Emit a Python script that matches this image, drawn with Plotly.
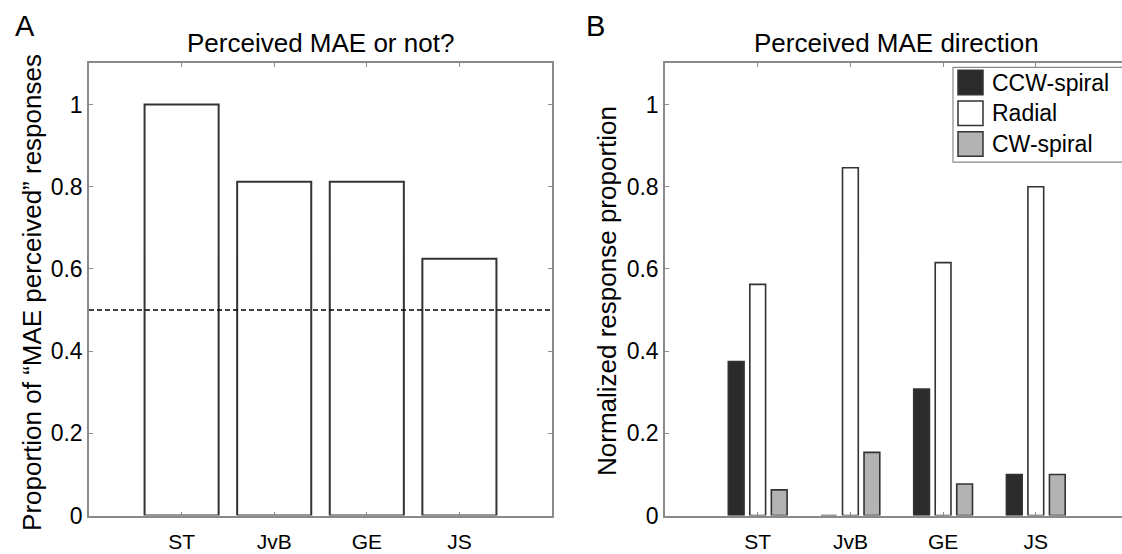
import plotly.graph_objects as go

# ---------------- data ----------------
subjects = ["ST", "JvB", "GE", "JS"]
x_pos = [1, 2, 3, 4]
mae_perceived = [1.0, 0.8125, 0.8125, 0.625]
chance_level = 0.5

ccw_spiral = [0.375, 0.0, 0.3077, 0.1]
radial = [0.5625, 0.8462, 0.6154, 0.8]
cw_spiral = [0.0625, 0.1538, 0.0769, 0.1]

series_names = ["CCW-spiral", "Radial", "CW-spiral"]
y_ticks = [0, 0.2, 0.4, 0.6, 0.8, 1]
y_tick_labels = ["0", "0.2", "0.4", "0.6", "0.8", "1"]

# ---------------- styling ----------------
W, H = 1122, 554
FONT = "Liberation Sans, Arial, Helvetica, sans-serif"
EDGE = "#333333"
AXIS = "#8a8a8a"
fills = ["#2b2b2b", "#ffffff", "#b3b3b3"]


def px(x):
    return x / W


def py(y):
    return 1 - y / H


fig = go.Figure()

# Panel A bars
fig.add_trace(go.Bar(
    x=x_pos, y=mae_perceived, width=0.8,
    marker=dict(color="white", line=dict(color=EDGE, width=2)),
    xaxis="x", yaxis="y", showlegend=False,
))

# Panel B grouped bars
bw = 0.17
shifts = [-0.232, 0.0, 0.232]
for name, vals, col, sh in zip(series_names, [ccw_spiral, radial, cw_spiral], fills, shifts):
    fig.add_trace(go.Bar(
        x=x_pos, y=vals, width=bw, offset=sh - bw / 2, name=name,
        marker=dict(color=col, line=dict(color=EDGE, width=1.6)),
        xaxis="x2", yaxis="y2", showlegend=False,
    ))

common_axis = dict(
    showgrid=False, zeroline=False, showline=True, linecolor=AXIS, linewidth=1.5,
    ticks="inside", ticklen=4, tickcolor=AXIS, tickwidth=1,
)

ydom = [py(528), py(65)]
fig.update_layout(
    width=W, height=H,
    margin=dict(l=0, r=0, t=0, b=0),
    paper_bgcolor="white", plot_bgcolor="white",
    barmode="overlay",
    font=dict(family=FONT, color="black"),
    xaxis=dict(domain=[px(89), px(552)], range=[0, 5], tickvals=x_pos, ticktext=subjects,
               mirror="ticks", anchor="y", tickfont=dict(size=21), ticklabelstandoff=6,
               **common_axis),
    yaxis=dict(domain=ydom, range=[0, 1.1], tickvals=y_ticks, ticktext=y_tick_labels,
               mirror="ticks", anchor="x", tickfont=dict(size=23), **common_axis),
    xaxis2=dict(domain=[px(665), 1.0], range=[0, 457 / 92.7], tickvals=x_pos, ticktext=subjects,
                mirror="ticks", anchor="y2", tickfont=dict(size=21), ticklabelstandoff=6,
                **common_axis),
    yaxis2=dict(domain=ydom, range=[0, 1.1], tickvals=y_ticks, ticktext=y_tick_labels,
                mirror=False, anchor="x2", tickfont=dict(size=23), **common_axis),
)

shapes = [
    dict(type="line", xref="x", yref="y", x0=0, x1=5, y0=chance_level, y1=chance_level,
         line=dict(color="black", width=1.5, dash="5px,3px")),
    # legend box
    dict(type="rect", xref="paper", yref="paper", x0=px(953), x1=px(1130), y0=py(166), y1=py(69),
         line=dict(color=AXIS, width=1.2), fillcolor="white", layer="above"),
]
annotations = [
    dict(text="A", x=px(24.5), y=py(27), xref="paper", yref="paper", showarrow=False,
         font=dict(size=29), xanchor="center", yanchor="middle"),
    dict(text="B", x=px(595), y=py(27), xref="paper", yref="paper", showarrow=False,
         font=dict(size=29), xanchor="center", yanchor="middle"),
    dict(text="Perceived MAE or not?", x=px(320.5), y=py(44), xref="paper", yref="paper",
         showarrow=False, font=dict(size=26), xanchor="center", yanchor="middle"),
    dict(text="Perceived MAE direction", x=px(896), y=py(44), xref="paper", yref="paper",
         showarrow=False, font=dict(size=26), xanchor="center", yanchor="middle"),
    dict(text="Proportion of \u201cMAE perceived\u201d responses", x=px(32), y=py(300),
         xref="paper", yref="paper", showarrow=False, textangle=-90, font=dict(size=26),
         xanchor="center", yanchor="middle"),
    dict(text="Normalized response proportion", x=px(607), y=py(298), xref="paper", yref="paper",
         showarrow=False, textangle=-90, font=dict(size=26), xanchor="center", yanchor="middle"),
]

# custom legend (large swatches like the original)
row_tops = [72, 103.5, 135]
for name, col, top in zip(series_names, fills, row_tops):
    shapes.append(dict(type="rect", xref="paper", yref="paper", x0=px(958), x1=px(983),
                       y0=py(top + 25), y1=py(top), fillcolor=col,
                       line=dict(color=EDGE, width=1.5), layer="above"))
    annotations.append(dict(text=name, x=px(990), y=py(top + 12.5), xref="paper", yref="paper",
                            showarrow=False, font=dict(size=23), xanchor="left", yanchor="middle"))

fig.update_layout(shapes=shapes, annotations=annotations)

fig.write_html(
    "out.html",
    config={"displayModeBar": False},
    post_script="document.body.style.margin='0';document.body.style.overflow='hidden';",
)
